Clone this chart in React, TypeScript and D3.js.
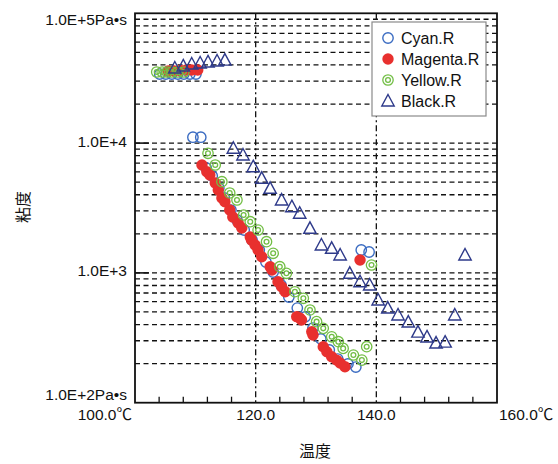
import React from "react";
import * as d3 from "d3";

// ---- data: [temperature °C, viscosity Pa·s] ----
const cyanData: [number, number][] = [
  [104.1, 34000], [105.1, 34000], [106.1, 34000], [107.1, 34000], [108.1, 34000], [109.1, 34000], [110.1, 34000],
  [109.6, 11100], [110.9, 11100],
  [111.8, 6430], [112.8, 5580], [113.9, 4510], [114.8, 3780], [115.9, 3050], [116.9, 2555], [118.1, 2140],
  [119.4, 1792], [120.6, 1501], [121.7, 1213], [122.9, 1016], [124.2, 807], [125.5, 652], [126.9, 536],
  [128.2, 458], [129.5, 376], [130.8, 310], [132.2, 255], [133.6, 217], [135.3, 199], [136.6, 188],
  [137.5, 1501], [138.8, 1449],
];
const magentaData: [number, number][] = [
  [105.5, 35900], [106.5, 35900], [107.5, 36300], [108.5, 36600], [109.4, 36600], [110.4, 36600],
  [111.1, 6780], [111.9, 6020], [112.4, 5680], [113.3, 4930], [113.8, 4350], [114.4, 3780], [114.9, 3537],
  [115.7, 3050], [116.2, 2695], [117.1, 2424], [117.7, 2218], [119.1, 1890], [119.3, 1792], [119.9, 1640],
  [120.4, 1501], [121.0, 1333], [122.4, 1116], [122.7, 1053], [123.7, 855], [124.3, 783], [124.9, 716],
  [126.8, 460], [127.3, 449], [127.6, 434], [129.3, 352], [129.5, 332], [131.2, 270], [131.8, 247],
  [132.6, 226], [133.4, 213], [134.0, 202], [134.8, 189],
  [137.3, 1257],
];
const yellowData: [number, number][] = [
  [103.6, 35300], [104.5, 35300], [105.3, 35300], [106.1, 35300], [107.1, 35300], [108.1, 35300],
  [112.1, 8346], [113.3, 6780], [114.4, 5043], [115.7, 4128], [116.9, 3645], [118.0, 2794], [119.1, 2480],
  [120.4, 2140], [121.8, 1739], [122.9, 1416], [124.0, 1116], [125.1, 993], [126.5, 716], [127.9, 637],
  [129.0, 518], [130.1, 421], [131.2, 374], [132.6, 322], [133.7, 295], [134.5, 262], [136.2, 233],
  [137.6, 213], [138.4, 270], [139.2, 1150],
];
const blackData: [number, number][] = [
  [106.6, 37900], [108.0, 39300], [109.4, 40700], [110.8, 41400], [112.1, 42200], [113.6, 42900], [114.9, 43600],
  [116.3, 9120], [117.9, 8097], [119.6, 6580], [121.0, 5355], [122.4, 4485], [124.3, 3645], [126.0, 3236],
  [127.3, 2879], [129.0, 2206], [130.9, 1641], [132.6, 1547], [134.0, 1373], [135.6, 993], [137.3, 855],
  [138.9, 807], [140.3, 618], [141.9, 536], [143.6, 474], [145.3, 418], [146.9, 350], [148.4, 321],
  [149.9, 288], [151.4, 293], [153.0, 474], [154.7, 1373],
];

const seriesNames = ["Cyan.R", "Magenta.R", "Yellow.R", "Black.R"];
const xTickValues = [100, 120, 140, 160];
const xTickLabels = ["100.0℃", "120.0", "140.0", "160.0℃"];
const xMinorTicks = [104, 108, 112, 116, 124, 128, 132, 136, 144, 148, 152, 156];
const yTickValues = [100000, 10000, 1000, 100];
const yTickLabels = ["1.0E+5Pa•s", "1.0E+4", "1.0E+3", "1.0E+2Pa•s"];
const xTitle = "温度";
const yTitle = "粘度";

const W = 558, H = 464;
const L = 135, R = 497, T = 13.3, B = 402.7;
const FONT = "'Liberation Sans', Arial, 'Noto Sans CJK JP', sans-serif";

const CYAN = "#3b6cc2";
const MAGENTA = "#e8302e";
const YELLOW = "#72be45";
const BLACK = "#2e3a8a";

function Marker({ kind, x, y }: { kind: number; x: number; y: number }) {
  if (kind === 0)
    return <circle cx={x} cy={y} r={5.2} fill="none" stroke={CYAN} strokeWidth={1.4} />;
  if (kind === 1) return <circle cx={x} cy={y} r={5.7} fill={MAGENTA} />;
  if (kind === 2)
    return (
      <g>
        <circle cx={x} cy={y} r={5.2} fill="none" stroke={YELLOW} strokeWidth={1.3} />
        <circle cx={x} cy={y} r={2.4} fill="none" stroke={YELLOW} strokeWidth={1.3} />
      </g>
    );
  return (
    <path
      d={`M${x},${y - 6.5}L${x + 6.2},${y + 5}L${x - 6.2},${y + 5}Z`}
      fill="none"
      stroke={BLACK}
      strokeWidth={1.4}
    />
  );
}

export default function App() {
  const x = d3.scaleLinear().domain([100, 160]).range([L, R]);
  const y = d3.scaleLog().domain([100, 100000]).range([B, T]);

  const gridVals: number[] = [];
  [100, 1000, 10000].forEach((dec) => {
    for (let k = 2; k <= 9; k++) gridVals.push(k * dec);
  });
  const decadeLines = [10000, 1000];

  const all = [cyanData, magentaData, yellowData, blackData];

  const labelY = (v: number, i: number) => {
    if (i === 0) return y(v) + 6;
    if (i === yTickValues.length - 1) return y(v) - 8;
    return y(v) - 2;
  };

  return (
    <svg
      width={W}
      height={H}
      style={{ position: "absolute", left: 0, top: 0, background: "#fff" }}
      fontFamily={FONT}
    >
      <rect x={0} y={0} width={W} height={H} fill="#fff" />
      {/* horizontal dashed gridlines */}
      {gridVals.map((v) => (
        <line key={"g" + v} x1={L} x2={R} y1={y(v)} y2={y(v)} stroke="#111" strokeWidth={1.3} strokeDasharray="5,3.5" />
      ))}
      {decadeLines.map((v) => (
        <g key={"d" + v}>
          <line x1={L} x2={R} y1={y(v)} y2={y(v)} stroke="#111" strokeWidth={1.3} strokeDasharray="5,3.5" />
          <line x1={L} x2={L + 14} y1={y(v)} y2={y(v)} stroke="#111" strokeWidth={1.6} />
        </g>
      ))}
      {/* vertical dashed gridlines */}
      {xTickValues.slice(1, -1).map((v) => (
        <line key={"v" + v} x1={x(v)} x2={x(v)} y1={T} y2={B} stroke="#111" strokeWidth={1.3} strokeDasharray="6,3,2,3" />
      ))}
      {/* minor ticks */}
      {xMinorTicks.map((v) => (
        <line key={"m" + v} x1={x(v)} x2={x(v)} y1={B} y2={B - 6} stroke="#111" strokeWidth={1.3} />
      ))}
      {/* frame */}
      <rect x={L} y={T} width={R - L} height={B - T} fill="none" stroke="#111" strokeWidth={1.8} />

      {/* data */}
      {all.map((data, si) => (
        <g key={"s" + si}>
          {data.map((d, i) => (
            <Marker key={i} kind={si} x={x(d[0])} y={y(d[1])} />
          ))}
        </g>
      ))}

      {/* legend */}
      <rect x={372} y={22} width={114} height={94} fill="#fff" stroke="#8a8a8a" strokeWidth={1.2} />
      {seriesNames.map((n, i) => (
        <g key={n}>
          <Marker kind={i} x={388} y={38 + i * 21} />
          <text x={401} y={38 + i * 21 + 5.8} fontSize={16} fill="#111">
            {n}
          </text>
        </g>
      ))}

      {/* y tick labels */}
      {yTickValues.map((v, i) => (
        <text key={"yl" + v} x={127} y={labelY(v, i) + 5.5} textAnchor="end" fontSize={15.5} fill="#111">
          {yTickLabels[i]}
        </text>
      ))}
      {/* x tick labels */}
      {xTickValues.map((v, i) => (
        <text
          key={"xl" + v}
          x={i === 0 ? x(v) - 3 : i === xTickValues.length - 1 ? x(v) + 2 : x(v)}
          y={420}
          textAnchor={i === 0 ? "end" : i === xTickValues.length - 1 ? "start" : "middle"}
          fontSize={15.5}
          fill="#111"
        >
          {xTickLabels[i]}
        </text>
      ))}
      {/* titles */}
      <text x={315} y={457} textAnchor="middle" fontSize={16} fill="#111" fontFamily="'Noto Sans CJK JP', sans-serif">
        {xTitle}
      </text>
      <text
        transform={`translate(29,207) rotate(-90)`}
        textAnchor="middle"
        fontSize={16}
        fill="#111"
        fontFamily="'Noto Sans CJK JP', sans-serif"
      >
        {yTitle}
      </text>
    </svg>
  );
}
